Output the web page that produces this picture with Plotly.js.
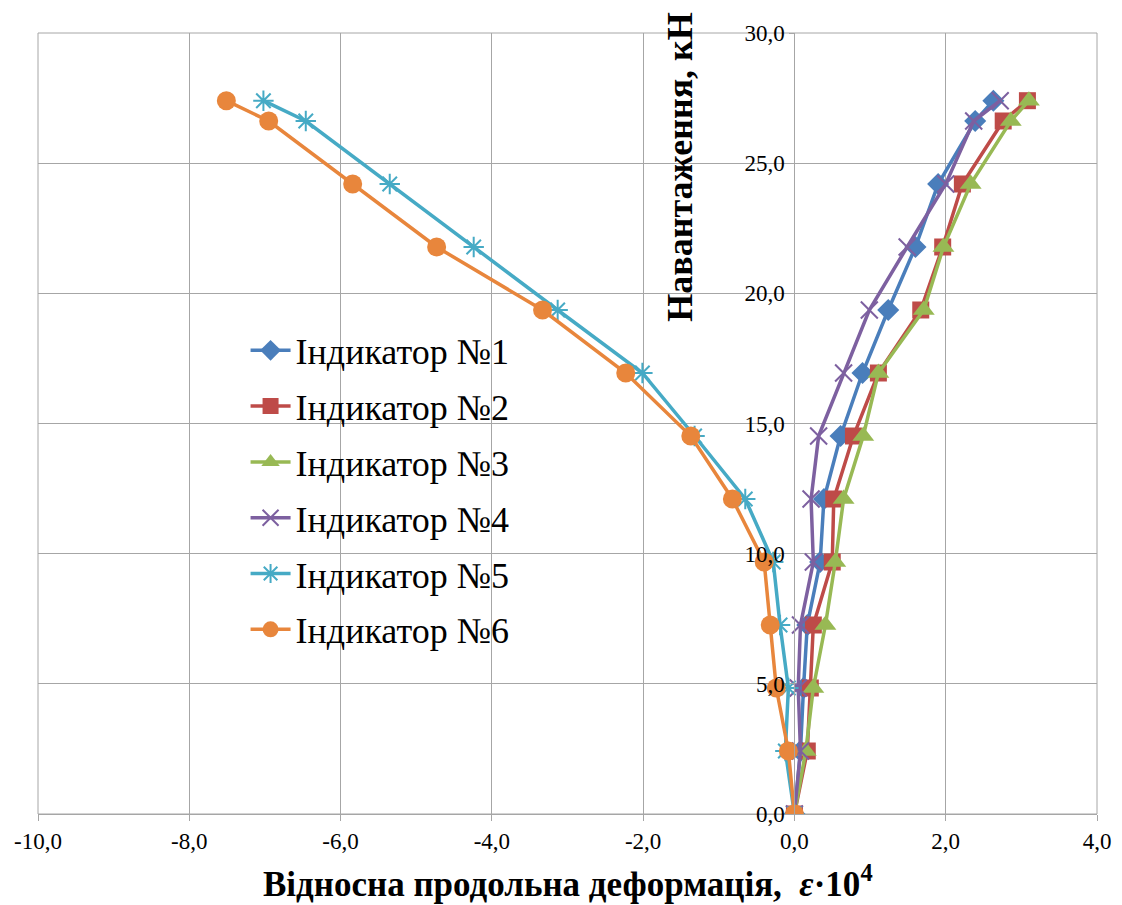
<!DOCTYPE html>
<html>
<head>
<meta charset="utf-8">
<script src="https://cdn.plot.ly/plotly-3.0.1.min.js"></script>
<style>html,body{margin:0;padding:0;background:#fff;}#chart{width:1122px;height:905px;}</style>
</head>
<body>
<div id="chart"></div>
<script>
const load = [0, 2.42, 4.84, 7.26, 9.68, 12.1, 14.52, 16.94, 19.36, 21.78, 24.2, 26.62, 27.4];
const ind1 = [0, 0.08, 0.12, 0.17, 0.34, 0.39, 0.61, 0.90, 1.24, 1.60, 1.90, 2.39, 2.63];
const ind2 = [0, 0.17, 0.21, 0.25, 0.50, 0.52, 0.78, 1.11, 1.67, 1.96, 2.22, 2.76, 3.08];
const ind3 = [0, 0.15, 0.25, 0.41, 0.54, 0.65, 0.91, 1.11, 1.71, 1.97, 2.33, 2.86, 3.10];
const ind4 = [0, 0.08, 0.05, 0.08, 0.25, 0.22, 0.32, 0.65, 0.99, 1.49, 2.00, 2.37, 2.72];
const ind5 = [0, -0.12, -0.08, -0.19, -0.28, -0.65, -1.32, -2.01, -3.13, -4.24, -5.35, -6.46, -7.02];
const ind6 = [0, -0.08, -0.24, -0.32, -0.40, -0.82, -1.37, -2.23, -3.33, -4.73, -5.84, -6.95, -7.51];
const names = ["Індикатор №1", "Індикатор №2", "Індикатор №3", "Індикатор №4", "Індикатор №5", "Індикатор №6"];
const xTicks = [-10, -8, -6, -4, -2, 0, 2, 4];
const yTicks = [0, 5, 10, 15, 20, 25, 30];
const xTickText = ["-10,0", "-8,0", "-6,0", "-4,0", "-2,0", "0,0", "2,0", "4,0"];
const yTickText = ["0,0", "5,0", "10,0", "15,0", "20,0", "25,0", "30,0"];

const series = [ind1, ind2, ind3, ind4, ind5, ind6];
const colors = ["#4A7EBB", "#BE4B48", "#98B954", "#7D60A0", "#46AAC5", "#E8863C"];
const symbols = ["diamond", "square", "triangle-up", "x-thin-open", "asterisk-open", "circle"];
const sizes = [17, 17, 19, 17, 17, 19];

const traces = series.map((s, i) => ({
  x: s, y: load, name: names[i], type: "scatter", mode: "lines+markers",
  legendgroup: "g" + i,
  line: {color: colors[i], width: 3.5},
  marker: {symbol: symbols[i], size: sizes[i], color: colors[i],
           line: {color: colors[i], width: (i === 3 || i === 4) ? 2 : 0}}
}));

const xr = [-10, 4];
const yPos = (0 - xr[0]) / (xr[1] - xr[0]);
const serif = "Liberation Serif";

const layout = {
  width: 1122, height: 905,
  margin: {l: 38, r: 25, t: 33, b: 91},
  paper_bgcolor: "#fff", plot_bgcolor: "#fff",
  font: {family: serif, color: "#000"},
  showlegend: true,
  legend: {x: 0.196, y: 0.632, xanchor: "left", yanchor: "top", bgcolor: "rgba(0,0,0,0)",
           font: {size: 36, family: serif, color: "#000"}, traceorder: "grouped",
           tracegroupgap: 6, itemwidth: 40},
  xaxis: {range: xr, tickvals: xTicks, ticktext: xTickText, showgrid: true, gridcolor: "#A6A6A6", gridwidth: 1,
          zeroline: false, showline: true, linecolor: "#A6A6A6", linewidth: 1,
          ticks: "outside", ticklen: 6, tickcolor: "#A6A6A6",
          tickfont: {size: 23, family: serif, color: "#000"}, fixedrange: true},
  yaxis: {range: [0, 30], tickvals: yTicks, ticktext: yTickText, showgrid: true, gridcolor: "#A6A6A6", gridwidth: 1,
          zeroline: false, showline: true, linecolor: "#A6A6A6", linewidth: 1,
          anchor: "free", position: yPos, ticks: "outside", ticklen: 5, tickcolor: "#A6A6A6",
          tickfont: {size: 23, family: serif, color: "#000"}, fixedrange: true},
  shapes: [
    {type: "rect", xref: "paper", yref: "paper", x0: 0, x1: 1, y0: 0, y1: 1,
     line: {color: "#A6A6A6", width: 1}, layer: "below"}
  ],
  annotations: [
    {text: "<b>Відносна продольна деформація,  <i>ε</i>·10<sup>4</sup></b>", xref: "paper", yref: "paper",
     x: 0.5, y: -0.086, xanchor: "center", yanchor: "middle", showarrow: false,
     font: {size: 35, family: serif, color: "#000"}},
    {text: "<b>Навантаження, кН</b>", xref: "paper", yref: "paper",
     x: 0.606, y: 1.0, xanchor: "center", yanchor: "top", textangle: -90, showarrow: false,
     yshift: 23, font: {size: 36, family: serif, color: "#000"}}
  ]
};

Plotly.newPlot("chart", traces, layout, {displayModeBar: false, staticPlot: true});
</script>
</body>
</html>
